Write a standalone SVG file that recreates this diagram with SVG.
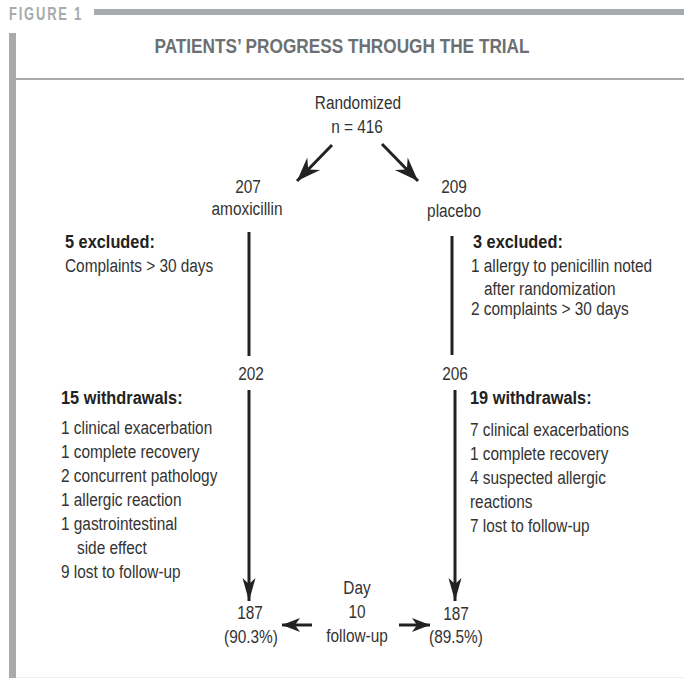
<svg xmlns="http://www.w3.org/2000/svg" width="684" height="679" viewBox="0 0 684 679">
<style>
text{font-family:"Liberation Sans",Arial,sans-serif;fill:#333;font-size:19px}
.b{font-weight:bold;fill:#222}
.c{text-anchor:middle}
.fig{font-weight:bold;fill:#a7abad;font-size:18px;letter-spacing:2.5px}
.title{font-weight:bold;fill:#6c7073;font-size:21px;text-anchor:middle}
.ln{stroke:#222;stroke-width:3;fill:none}
</style>
<defs>
<marker id="ah" markerUnits="userSpaceOnUse" viewBox="-24 -8 26 16" refX="0" refY="0" markerWidth="26" markerHeight="16" orient="auto">
<path d="M0 0 L-23 -6.5 L-17 0 L-23 6.5 Z" fill="#222"/>
</marker>
<marker id="ahd" markerUnits="userSpaceOnUse" viewBox="-26 -10 28 20" refX="0" refY="0" markerWidth="28" markerHeight="20" orient="auto">
<path d="M0 0 L-24 -9 L-16 0 L-24 9 Z" fill="#222"/>
</marker>
<marker id="ahs" markerUnits="userSpaceOnUse" viewBox="-20 -8 22 16" refX="0" refY="0" markerWidth="22" markerHeight="16" orient="auto">
<path d="M0 0 L-18 -7 L-13 0 L-18 7 Z" fill="#222"/>
</marker>
</defs>
<rect width="684" height="679" fill="#fff"/>
<g id="header">
<text class="fig" transform="translate(9 20) scale(0.72 1)">FIGURE 1</text>
<rect x="94" y="9" width="590" height="6" fill="#a7abad"/>
<rect x="9" y="33" width="7" height="645" fill="#a7abad"/>
<rect x="16" y="78" width="668" height="2" fill="#a7abad"/>
<rect x="16" y="677" width="668" height="1" fill="#eeeeee"/>
<text class="title" transform="translate(342 53) scale(0.82 1)">PATIENTS’ PROGRESS THROUGH THE TRIAL</text>
</g>
<g id="connectors">
<line class="ln" x1="332" y1="145" x2="297" y2="181" marker-end="url(#ahd)"/>
<line class="ln" x1="382" y1="144" x2="418" y2="181" marker-end="url(#ahd)"/>
<line class="ln" x1="249" y1="232" x2="249" y2="356"/>
<line class="ln" x1="452" y1="236" x2="452" y2="355"/>
<line class="ln" x1="249" y1="390" x2="249" y2="601" marker-end="url(#ah)"/>
<line class="ln" x1="455" y1="390" x2="455" y2="601" marker-end="url(#ah)"/>
<line class="ln" x1="312" y1="625" x2="282" y2="625" marker-end="url(#ahs)"/>
<line class="ln" x1="399" y1="625" x2="430" y2="625" marker-end="url(#ahs)"/>
</g>
<g id="randomized">
<text class="c" transform="translate(358 109) scale(0.81 1)">Randomized</text>
<text class="c" transform="translate(357 133) scale(0.81 1)">n = 416</text>
</g>
<g id="amoxicillin">
<text class="c" transform="translate(248 193) scale(0.81 1)">207</text>
<text class="c" transform="translate(247 215) scale(0.81 1)">amoxicillin</text>
</g>
<g id="placebo">
<text class="c" transform="translate(454 193) scale(0.81 1)">209</text>
<text class="c" transform="translate(454 217) scale(0.81 1)">placebo</text>
</g>
<g id="excluded-left">
<text class="b" transform="translate(65 248) scale(0.86 1)">5 excluded:</text>
<text transform="translate(65 272) scale(0.81 1)">Complaints &gt; 30 days</text>
</g>
<g id="excluded-right">
<text class="b" transform="translate(473 248) scale(0.86 1)">3 excluded:</text>
<text transform="translate(471 272) scale(0.81 1)">1 allergy to penicillin noted</text>
<text transform="translate(484 295) scale(0.81 1)">after randomization</text>
<text transform="translate(471 315) scale(0.81 1)">2 complaints &gt; 30 days</text>
</g>
<g id="n202"><text class="c" transform="translate(251 380) scale(0.81 1)">202</text></g>
<g id="n206"><text class="c" transform="translate(455 380) scale(0.81 1)">206</text></g>
<g id="withdrawals-left">
<text class="b" transform="translate(61 404) scale(0.86 1)">15 withdrawals:</text>
<text transform="translate(61 434) scale(0.81 1)">1 clinical exacerbation</text>
<text transform="translate(61 458) scale(0.81 1)">1 complete recovery</text>
<text transform="translate(61 482) scale(0.81 1)">2 concurrent pathology</text>
<text transform="translate(61 506) scale(0.81 1)">1 allergic reaction</text>
<text transform="translate(61 530) scale(0.81 1)">1 gastrointestinal</text>
<text transform="translate(77 554) scale(0.81 1)">side effect</text>
<text transform="translate(61 578) scale(0.81 1)">9 lost to follow-up</text>
</g>
<g id="withdrawals-right">
<text class="b" transform="translate(470 404) scale(0.86 1)">19 withdrawals:</text>
<text transform="translate(470 436) scale(0.81 1)">7 clinical exacerbations</text>
<text transform="translate(470 460) scale(0.81 1)">1 complete recovery</text>
<text transform="translate(470 484) scale(0.81 1)">4 suspected allergic</text>
<text transform="translate(470 508) scale(0.81 1)">reactions</text>
<text transform="translate(470 532) scale(0.81 1)">7 lost to follow-up</text>
</g>
<g id="final-left">
<text class="c" transform="translate(250 619) scale(0.81 1)">187</text>
<text class="c" transform="translate(251 643) scale(0.81 1)">(90.3%)</text>
</g>
<g id="day10">
<text class="c" transform="translate(357 594) scale(0.81 1)">Day</text>
<text class="c" transform="translate(357 618) scale(0.81 1)">10</text>
<text class="c" transform="translate(357 642) scale(0.81 1)">follow-up</text>
</g>
<g id="final-right">
<text class="c" transform="translate(456 620) scale(0.81 1)">187</text>
<text class="c" transform="translate(456 643) scale(0.81 1)">(89.5%)</text>
</g>
</svg>
